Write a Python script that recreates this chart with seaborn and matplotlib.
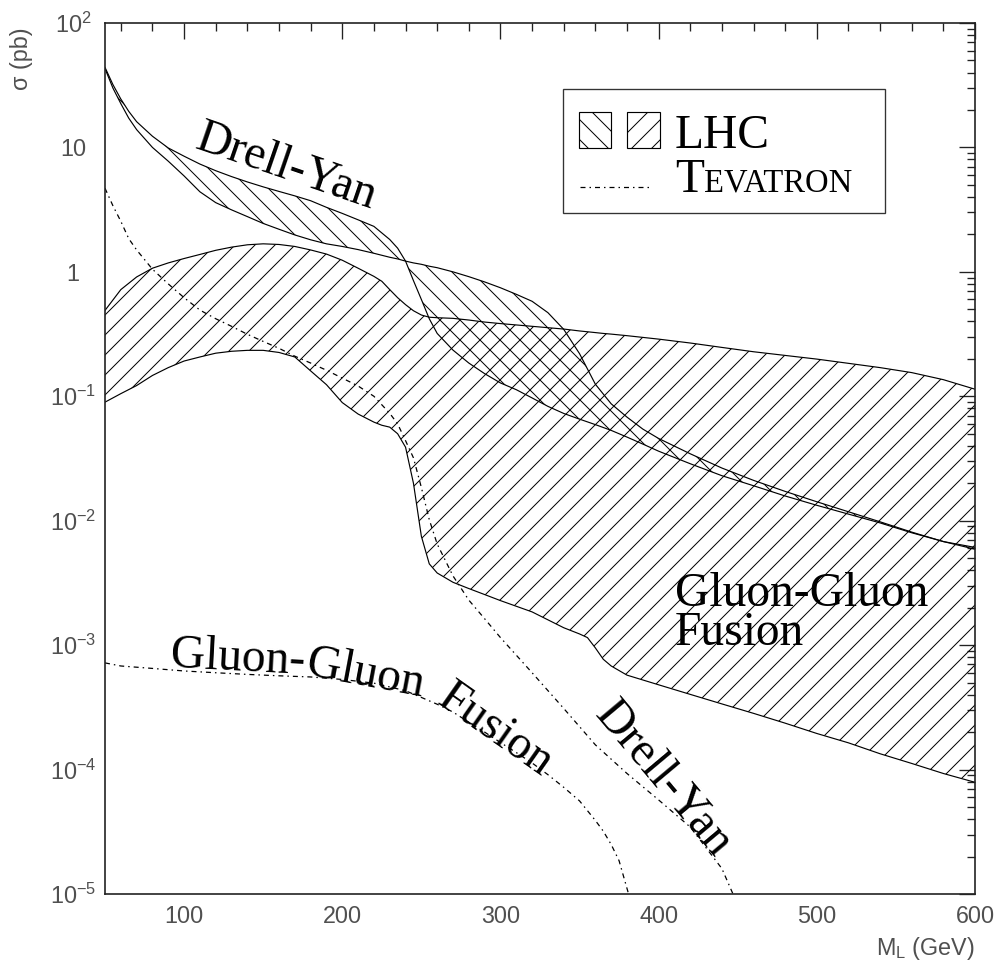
import numpy as np
import pandas as pd
import matplotlib
matplotlib.use("Agg")
import matplotlib.pyplot as plt
import seaborn as sns
from matplotlib.patches import Rectangle
from matplotlib.lines import Line2D
from matplotlib.ticker import FixedLocator, FixedFormatter, MultipleLocator, LogLocator, NullFormatter

# ---------------- data ----------------
# LHC Drell-Yan band: two boundary curves (they cross near 240 GeV)
x_dy = [50, 55, 60, 65, 70, 80, 90, 100, 110, 120, 130, 140, 150, 160, 170, 180, 190, 200,
        210, 220, 230, 235, 240, 245, 250, 255, 260, 270, 280, 290, 300, 310, 320, 330, 340,
        350, 360, 370, 380, 390, 400, 420, 440, 460, 480, 500, 520, 540, 560, 580, 600]
dy_a = [44, 32, 24.5, 19.5, 16.1, 12.3, 9.9, 8.5, 7.35, 6.5, 5.83, 5.28, 4.82, 4.43, 4.08, 3.73,
        3.3, 2.95, 2.62, 2.32, 1.82, 1.55, 1.22, 0.85, 0.6, 0.42, 0.32, 0.235, 0.185, 0.152,
        0.128, 0.113, 0.097, 0.083, 0.0728, 0.0655, 0.0592, 0.0532, 0.047, 0.0413, 0.0362,
        0.0287, 0.0230, 0.0191, 0.0158, 0.0133, 0.0113, 0.0096, 0.0080, 0.0068, 0.0059]
dy_b = [43, 30, 22.5, 17.2, 13.9, 10.0, 7.75, 5.9, 4.4, 3.6, 3.15, 2.78, 2.45, 2.2, 1.98, 1.81,
        1.68, 1.6, 1.51, 1.41, 1.31, 1.27, 1.22, 1.18, 1.15, 1.11, 1.08, 1.0, 0.915, 0.83,
        0.745, 0.66, 0.58, 0.47, 0.345, 0.22, 0.125, 0.087, 0.068, 0.0545, 0.0458,
        0.0345, 0.0265, 0.0211, 0.0172, 0.0142, 0.0118, 0.0098, 0.0081, 0.0068, 0.0061]

# LHC gluon-gluon fusion band
x_gg = [50, 60, 70, 80, 90, 100, 110, 120, 130, 140, 150, 160, 170, 180, 190, 200, 210, 220,
        225, 230, 235, 240, 245, 250, 255, 260, 270, 280, 290, 300, 320, 340, 350, 355, 360,
        365, 370, 380, 400, 420, 440, 460, 480, 500, 520, 540, 560, 580, 600]
gg_hi = [0.49, 0.72, 0.91, 1.07, 1.18, 1.28, 1.38, 1.49, 1.58, 1.65, 1.68, 1.66, 1.6, 1.5,
         1.39, 1.24, 1.07, 0.92, 0.84, 0.72, 0.62, 0.545, 0.487, 0.45, 0.432, 0.428, 0.423,
         0.41, 0.395, 0.384, 0.365, 0.347, 0.335, 0.33, 0.325, 0.32, 0.316, 0.307, 0.288,
         0.268, 0.247, 0.228, 0.213, 0.199, 0.184, 0.17, 0.155, 0.136, 0.114]
gg_lo = [0.0897, 0.105, 0.122, 0.147, 0.17, 0.192, 0.207, 0.222, 0.23, 0.234, 0.234, 0.225,
         0.207, 0.16, 0.124, 0.089, 0.072, 0.062, 0.0585, 0.0565, 0.05, 0.039, 0.02, 0.0075,
         0.0045, 0.0038, 0.0032, 0.00285, 0.00255, 0.00228, 0.00185, 0.00138, 0.00123,
         0.00115, 0.00095, 0.00077, 0.00068, 0.000574, 0.00048, 0.000402, 0.000337,
         0.000283, 0.000236, 0.000195, 0.000164, 0.000134, 0.000112, 9.3e-5, 7.9e-5]

# Tevatron Drell-Yan
x_tdy = [50, 55, 60, 65, 70, 80, 90, 100, 110, 120, 130, 140, 150, 160, 170, 180, 190, 200,
         210, 220, 230, 235, 240, 245, 250, 255, 260, 270, 280, 290, 300, 320, 340, 360, 380,
         400, 420, 440, 447]
tdy = [4.7, 3.4, 2.55, 1.85, 1.5, 1.05, 0.8, 0.62, 0.493, 0.42, 0.365, 0.315, 0.276, 0.243,
       0.21, 0.185, 0.162, 0.14, 0.121, 0.1, 0.073, 0.06, 0.044, 0.032, 0.0185, 0.0102,
       0.0065, 0.0036, 0.0023, 0.00163, 0.00115, 0.0006, 0.00031, 0.000158, 9.3e-5, 5.7e-5,
       3.45e-5, 1.6e-5, 1.0e-5]

# Tevatron gluon-gluon fusion
x_tgg = [50, 60, 80, 100, 120, 140, 160, 180, 200, 220, 240, 250, 260, 270, 280, 290, 300,
         310, 320, 330, 340, 350, 360, 365, 370, 375, 381]
tgg = [0.00072, 0.00068, 0.00065, 0.00062, 0.0006, 0.000582, 0.000567, 0.000555, 0.00053,
       0.000495, 0.00043, 0.00038, 0.000335, 0.00029, 0.00024, 0.0002, 0.000165, 0.000137,
       0.000113, 9.1e-5, 7.2e-5, 5.6e-5, 3.9e-5, 3.2e-5, 2.5e-5, 1.85e-5, 1.0e-5]

y_ticks = [1e-5, 1e-4, 1e-3, 1e-2, 1e-1, 1, 10, 100]
y_ticklabels = [r"$\mathregular{10^{-5}}$", r"$\mathregular{10^{-4}}$", r"$\mathregular{10^{-3}}$",
                r"$\mathregular{10^{-2}}$", r"$\mathregular{10^{-1}}$", "1", "10",
                r"$\mathregular{10^{2}}$"]

# ---------------- style ----------------
sns.set_style("white")
plt.rcParams["font.family"] = ["Liberation Sans", "DejaVu Sans"]
plt.rcParams["text.color"] = "black"
plt.rcParams["mathtext.fontset"] = "custom"
plt.rcParams["mathtext.rm"] = "Liberation Sans"
plt.rcParams["mathtext.it"] = "Liberation Sans:italic"
plt.rcParams["mathtext.bf"] = "Liberation Sans:bold"
plt.rcParams["hatch.linewidth"] = 0.6
plt.rcParams["hatch.color"] = "black"

DPI = 120
fig = plt.figure(figsize=(1000 / DPI, 961 / DPI), dpi=DPI)
fig.patch.set_facecolor("white")
ax = fig.add_axes([0.105, 1 - 894 / 961, 0.870, 871 / 961])
ax.set_facecolor("white")
ax.set_yscale("log")

SERIF = ["Liberation Serif", "DejaVu Serif"]
tev_ls = (0, (4, 3.2, 1.2, 3.2))
LW = 0.7
GRAY = "#505050"

# hatched bands
ax.fill_between(x_gg, gg_lo, gg_hi, facecolor="none", edgecolor="black", hatch="//", linewidth=0)
ax.fill_between(x_dy, dy_a, dy_b, facecolor="none", edgecolor="black", hatch="\\\\", linewidth=0)

# band boundaries
for xs, ys in [(x_dy, dy_a), (x_dy, dy_b), (x_gg, gg_hi), (x_gg, gg_lo)]:
    sns.lineplot(x=xs, y=ys, ax=ax, color="black", lw=LW, estimator=None, sort=False)

# Tevatron curves
for xs, ys in [(x_tdy, tdy), (x_tgg, tgg)]:
    sns.lineplot(x=xs, y=ys, ax=ax, color="black", lw=0.75, linestyle=tev_ls,
                 estimator=None, sort=False)

# ---------------- axes ----------------
ax.set_xlim(50, 600)
ax.set_ylim(1e-5, 1e2)
ax.xaxis.set_major_locator(MultipleLocator(100))
ax.xaxis.set_minor_locator(MultipleLocator(20))
ax.yaxis.set_major_locator(FixedLocator(y_ticks))
ax.yaxis.set_major_formatter(FixedFormatter(y_ticklabels))
ax.yaxis.set_minor_locator(LogLocator(base=10, subs=np.arange(2, 10)))
ax.yaxis.set_minor_formatter(NullFormatter())

ax.tick_params(which="both", direction="in", top=True, right=True, color="#222222",
               labelcolor=GRAY, labelsize=14)
ax.tick_params(which="major", length=9.6, width=0.8)
ax.tick_params(which="minor", length=4.8, width=0.8)
ax.tick_params(axis="x", which="major", pad=6.5)
ax.tick_params(axis="y", which="major", pad=19.2)
plt.setp(ax.get_yticklabels(), ha="center")

for s in ax.spines.values():
    s.set_linewidth(1.0)
    s.set_color("#222222")

ax.set_ylabel("σ (pb)", loc="top", fontsize=14, color=GRAY)
ax.yaxis.set_label_coords(-0.083, 0.995)
ax.set_xlabel(r"$\mathregular{M_L}$ (GeV)", loc="right", fontsize=14, color=GRAY)
ax.xaxis.set_label_coords(1.0, -0.047)

# ---------------- annotations ----------------
FS = 28.5
ax.text(165, 6.9, "Drell-Yan", rotation=-19, rotation_mode="anchor", ha="center", va="center",
        fontsize=FS, family=SERIF, color="black")
ax.text(403, 8.3e-5, "Drell-Yan", rotation=-50, rotation_mode="anchor", ha="center", va="center",
        fontsize=FS, family=SERIF, color="black")
ax.text(410.3, 1.0e-3, "Gluon-Gluon\nFusion", ha="left", va="baseline", fontsize=FS,
        family=SERIF, color="black", linespacing=0.87)
ax.text(91.1, 6.65e-4, "Gluon-", rotation=-3, rotation_mode="anchor", ha="left", va="baseline",
        fontsize=FS, family=SERIF, color="black")
ax.text(176.5, 5.78e-4, "Gluon", rotation=-10.6, rotation_mode="anchor", ha="left",
        va="baseline", fontsize=FS, family=SERIF, color="black")
ax.text(259.0, 3.45e-4, "Fusion", rotation=-35, rotation_mode="anchor", ha="left",
        va="baseline", fontsize=FS, family=SERIF, color="black")

# ---------------- legend box ----------------
ax.add_patch(Rectangle((0.5264, 0.7819), 0.3702, 0.1423, transform=ax.transAxes,
                       facecolor="white", edgecolor="#333333", lw=0.8, zorder=5))
ax.add_patch(Rectangle((0.5448, 0.8565), 0.0368, 0.0413, transform=ax.transAxes,
                       facecolor="white", edgecolor="black", hatch="\\\\", lw=0.7, zorder=6))
ax.add_patch(Rectangle((0.6000, 0.8565), 0.0379, 0.0413, transform=ax.transAxes,
                       facecolor="white", edgecolor="black", hatch="//", lw=0.7, zorder=6))
ax.add_line(Line2D([0.546, 0.6264], [0.8117, 0.8117], transform=ax.transAxes, color="black",
                   lw=0.75, linestyle=tev_ls, zorder=6))
ax.text(0.6552, 0.8565, "LHC", transform=ax.transAxes, ha="left", va="baseline",
        fontsize=FS, family=SERIF, color="black", zorder=7)
ax.text(0.6552, 0.806, "T", transform=ax.transAxes, ha="left", va="baseline",
        fontsize=FS, family=SERIF, color="black", zorder=7)
ax.text(0.6885, 0.806, "EVATRON", transform=ax.transAxes, ha="left", va="baseline",
        fontsize=19.6, family=SERIF, color="black", zorder=7)

ax.set_xlim(50, 600)
ax.set_ylim(1e-5, 1e2)

fig.savefig("out.png", dpi=DPI)
